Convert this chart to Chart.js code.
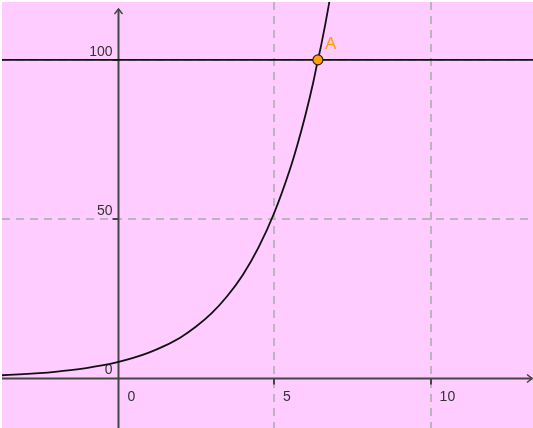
<!DOCTYPE html>
<html>
<head>
<meta charset="utf-8">
<script src="https://cdn.jsdelivr.net/npm/chart.js@4"></script>
<style>
  html, body { margin: 0; padding: 0; background: #ffffff; }
  canvas { display: block; }
</style>
</head>
<body>
<canvas id="myChart" width="533" height="428"></canvas>
<script>
// values
var curveX = [-3.7, -3, -2.5, -2, -1.5, -1, -0.5, 0, 0.5, 1, 1.5, 2, 2.5, 3, 3.5, 4, 4.5, 5, 5.5, 5.75, 6, 6.25, 6.4, 6.5, 6.75, 6.85];
var curveY = [0.88, 1.23, 1.55, 1.96, 2.48, 3.13, 3.96, 5, 6.32, 7.98, 10.1, 12.7, 16.1, 20.3, 25.7, 32.4, 41.0, 51.8, 65.4, 73.5, 82.6, 92.9, 100, 104.4, 117.4, 123.5];
var lineY = 100;
var pointA = { x: 6.4, y: 100 };
var pointLabel = "A";

var xRange = [-3.69, 13.27];
var yRange = [-15.7, 118.2];
var xTicks = [0, 5, 10];
var yTicks = [0, 50, 100];

var ctx = document.getElementById("myChart").getContext("2d");

var curveData = curveX.map(function (x, i) { return { x: x, y: curveY[i] }; });

var axesPlugin = {
  id: "axes",
  beforeDraw: function (chart) {
    var c = chart.ctx, a = chart.chartArea;
    c.save();
    c.fillStyle = "#ffccff";
    c.fillRect(a.left, a.top, a.right - a.left, a.bottom - a.top);
    c.restore();
  },
  beforeDatasetsDraw: function (chart) {
    var c = chart.ctx, a = chart.chartArea;
    var xs = chart.scales.x, ys = chart.scales.y;
    var x0 = Math.round(xs.getPixelForValue(0)) + 0.5;
    var y0 = Math.round(ys.getPixelForValue(0)) + 0.5;
    c.save();

    // dashed grid
    c.strokeStyle = "#bdb3bd";
    c.lineWidth = 2;
    c.setLineDash([8, 6]);
    xTicks.forEach(function (t) {
      if (t === 0) return;
      var px = Math.round(xs.getPixelForValue(t));
      c.beginPath(); c.moveTo(px, a.top); c.lineTo(px, a.bottom); c.stroke();
    });
    yTicks.forEach(function (t) {
      if (t === 0) return;
      var py = Math.round(ys.getPixelForValue(t));
      c.beginPath(); c.moveTo(a.left, py); c.lineTo(a.right, py); c.stroke();
    });
    c.setLineDash([]);

    // axes
    c.strokeStyle = "#444444";
    c.lineWidth = 2;
    c.beginPath(); c.moveTo(a.left, y0); c.lineTo(a.right - 1, y0); c.stroke();
    c.beginPath(); c.moveTo(x0, a.bottom); c.lineTo(x0, a.top + 7); c.stroke();

    // arrows
    c.lineWidth = 1.5;
    c.beginPath();
    c.moveTo(x0 - 4, a.top + 12); c.lineTo(x0, a.top + 7); c.lineTo(x0 + 4, a.top + 12);
    c.stroke();
    c.beginPath();
    c.moveTo(a.right - 6, y0 - 4); c.lineTo(a.right - 1, y0); c.lineTo(a.right - 6, y0 + 4);
    c.stroke();

    // tick marks
    c.lineWidth = 2;
    xTicks.forEach(function (t) {
      if (t === 0) return;
      var px = Math.round(xs.getPixelForValue(t));
      c.beginPath(); c.moveTo(px, y0); c.lineTo(px, y0 + 6); c.stroke();
    });
    yTicks.forEach(function (t) {
      if (t === 0) return;
      var py = Math.round(ys.getPixelForValue(t));
      c.beginPath(); c.moveTo(x0, py); c.lineTo(x0 - 6, py); c.stroke();
    });

    // tick labels
    c.fillStyle = "#333333";
    c.font = "14px 'Liberation Sans', Arial, sans-serif";
    c.textBaseline = "alphabetic";
    c.textAlign = "left";
    xTicks.forEach(function (t) {
      var px = xs.getPixelForValue(t);
      c.fillText(String(t), px + (t === 0 ? 10 : 9), y0 + 22);
    });
    c.textAlign = "right";
    yTicks.forEach(function (t) {
      var py = ys.getPixelForValue(t);
      c.fillText(String(t), x0 - 6, py - 4);
    });
    c.restore();
  },
  afterDatasetsDraw: function (chart) {
    var c = chart.ctx;
    var px = chart.scales.x.getPixelForValue(pointA.x);
    var py = chart.scales.y.getPixelForValue(pointA.y);
    c.save();
    c.fillStyle = "#ff9f00";
    c.font = "17px 'Liberation Sans', Arial, sans-serif";
    c.textAlign = "left";
    c.fillText(pointLabel, px + 7, py - 11);
    c.restore();
  }
};

var myChart = new Chart(ctx, {
  type: "scatter",
  data: {
    datasets: [{
      label: "A",
      data: [pointA],
      pointRadius: 5,
      pointBackgroundColor: "#ffa000",
      pointBorderColor: "#222222",
      pointBorderWidth: 1.2,
      showLine: false,
    },
    {
      label: "f",
      data: curveData,
      showLine: true,
      borderColor: "#111111",
      borderWidth: 1.8,
      pointRadius: 0,
      cubicInterpolationMode: "monotone",
    },
    {
      label: "y = 100",
      data: [{ x: xRange[0], y: lineY }, { x: xRange[1], y: lineY }],
      showLine: true,
      borderColor: "#111111",
      borderWidth: 1.6,
      pointRadius: 0,
    }]
  },
  options: {
    responsive: false,
    animation: false,
    devicePixelRatio: 1,
    layout: { autoPadding: false, padding: { left: 2, top: 2, right: 0, bottom: 0 } },
    scales: {
      x: { type: "linear", min: xRange[0], max: xRange[1], display: false },
      y: { type: "linear", min: yRange[0], max: yRange[1], display: false }
    },
    plugins: {
      legend: { display: false },
      tooltip: { enabled: false }
    }
  },
  plugins: [axesPlugin]
});
</script>
</body>
</html>
